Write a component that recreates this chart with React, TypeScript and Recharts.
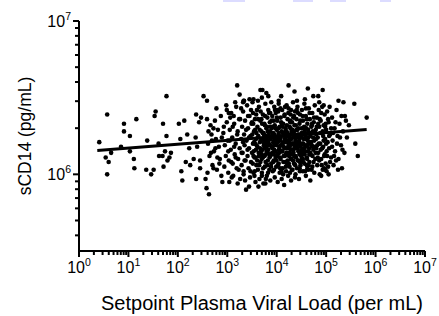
import React from 'react'
import { ComposedChart, Scatter, Line, XAxis, YAxis, Label } from 'recharts'

// values are log10 of setpoint viral load (per mL) and log10 of sCD14 (pg/mL)
const lowViralLoad: [number, number][] = [
  [0.41, 6.21], [0.57, 6.39], [0.54, 6.11], [0.6, 6.08], [0.57, 6.0], [0.65, 6.14], [0.85, 6.18], [0.91, 6.33],
  [0.91, 6.28], [1.03, 6.25], [1.03, 6.15], [1.11, 6.1], [1.12, 6.04], [1.16, 6.36], [1.38, 6.22], [1.36, 6.03],
  [1.46, 6.0], [1.51, 6.03], [1.53, 6.38], [1.55, 6.41], [1.61, 6.2], [1.62, 6.12], [1.69, 6.12], [1.74, 6.15],
  [1.79, 6.09], [1.83, 6.11], [1.71, 6.05], [1.77, 6.51], [1.7, 6.33], [1.77, 6.25], [1.86, 6.14], [2.02, 6.33],
  [2.05, 6.23], [2.07, 6.02], [2.09, 5.96], [2.13, 6.35], [2.19, 6.26], [2.16, 6.08], [2.25, 6.06], [2.32, 6.1],
  [2.23, 6.17], [2.37, 6.39], [2.36, 6.24], [2.39, 6.18], [2.37, 5.97], [2.43, 6.34], [2.47, 6.37], [2.52, 6.51],
  [2.59, 6.48], [2.56, 5.97], [2.58, 5.91], [2.63, 5.87], [2.59, 6.36], [2.66, 6.32], [2.72, 6.3], [2.62, 6.28],
  [2.69, 6.22], [2.76, 6.17], [2.67, 6.14], [2.8, 6.11], [2.72, 6.04], [2.84, 6.07], [2.9, 5.95], [2.6, 6.01],
  [2.45, 6.04], [2.45, 6.09], [2.99, 6.42], [3.06, 6.37], [2.93, 6.31],
  [2.61, 6.2], [2.64, 6.12], [2.68, 6.26], [2.7, 6.06], [2.73, 6.15], [2.75, 6.35], [2.77, 6.23], [2.79, 6.03],
  [2.81, 6.29], [2.83, 6.18], [2.85, 6.1], [2.87, 6.38], [2.88, 5.99], [2.89, 6.24], [2.78, 6.43],
]

const midViralLoad: [number, number][] = [
  [2.92, 6.27], [2.95, 6.19], [2.97, 6.12], [2.94, 6.05], [2.99, 6.34], [3.01, 6.22], [3.03, 6.09], [3.02, 6.01],
  [3.05, 6.29], [3.07, 6.16], [3.08, 6.4], [3.1, 6.24], [3.11, 6.07], [3.12, 5.99], [3.14, 6.33], [3.15, 6.13],
  [3.17, 6.2], [3.18, 6.44], [3.19, 6.04], [3.21, 6.28], [3.22, 6.1], [3.24, 6.36], [3.25, 6.17], [3.26, 5.97],
  [3.28, 6.23], [3.29, 6.06], [3.3, 6.31], [2.98, 6.45], [3.04, 5.95], [3.13, 6.38],
  [3.31, 6.14], [3.32, 6.41], [3.33, 6.02], [3.34, 6.26], [3.35, 6.19], [3.36, 6.35], [3.37, 6.09], [3.38, 5.9],
  [3.39, 6.22], [3.4, 6.45], [3.41, 6.12], [3.42, 6.3], [3.43, 6.04], [3.44, 6.17], [3.45, 6.38], [3.46, 5.98],
  [3.47, 6.25], [3.48, 6.08], [3.49, 6.33], [3.5, 6.14], [3.51, 6.47], [3.52, 6.2], [3.53, 6.01], [3.54, 6.28],
  [3.55, 6.11], [3.56, 6.36], [3.57, 5.95], [3.58, 6.23], [3.59, 6.06], [3.6, 6.42], [3.34, 6.48], [3.45, 6.49],
  [3.52, 6.4], [3.36, 5.96], [3.58, 6.16],
  [3.61, 6.18], [3.61, 6.31], [3.62, 6.03], [3.63, 6.25], [3.64, 6.12], [3.64, 6.44], [3.65, 5.97], [3.66, 6.21],
  [3.67, 6.35], [3.67, 6.08], [3.68, 6.15], [3.69, 6.28], [3.7, 6.5], [3.7, 6.01], [3.71, 6.22], [3.72, 6.39],
  [3.72, 6.11], [3.73, 5.94], [3.74, 6.26], [3.75, 6.17], [3.75, 6.33], [3.76, 6.05], [3.77, 6.46], [3.77, 6.2],
  [3.78, 6.13], [3.79, 6.3], [3.8, 5.99], [3.8, 6.24], [3.81, 6.37], [3.82, 6.09], [3.83, 6.16], [3.83, 6.42],
  [3.84, 6.27], [3.85, 6.03], [3.85, 6.19], [3.86, 6.34], [3.87, 5.96], [3.87, 6.12], [3.88, 6.23], [3.89, 6.47],
  [3.89, 6.07], [3.9, 6.3], [3.63, 5.92], [3.71, 6.55], [3.79, 6.53],
  [3.2, 6.58], [3.25, 6.52], [3.32, 6.47], [3.67, 6.55], [3.83, 6.51], [3.53, 6.49], [3.62, 6.48], [3.33, 6.48],
  [3.77, 5.94], [3.78, 5.97], [3.7, 5.99],
  [3.02, 6.15], [3.05, 6.22], [3.08, 6.08], [3.11, 6.31], [3.14, 6.18], [3.17, 6.11], [3.2, 6.26], [3.23, 6.03],
  [3.26, 6.36], [3.29, 6.14], [3.32, 6.21], [3.35, 6.09], [3.38, 6.29], [3.41, 6.16], [3.44, 6.24], [3.47, 6.02],
  [3.5, 6.34], [3.53, 6.12], [3.56, 6.2], [3.59, 6.27], [3.03, 6.4], [3.16, 6.47], [3.28, 6.43], [3.42, 6.38],
  [3.48, 6.42], [3.09, 5.98], [3.21, 5.94], [3.33, 6.0], [3.44, 5.92], [3.55, 5.99],
]

const highViralLoad: [number, number][] = [
  [3.91, 6.14], [3.91, 6.38], [3.92, 6.02], [3.93, 6.21], [3.93, 6.27], [3.94, 6.09], [3.95, 6.44], [3.95, 6.16],
  [3.96, 5.98], [3.96, 6.32], [3.97, 6.23], [3.98, 6.11], [3.98, 6.4], [3.99, 6.05], [4.0, 6.19], [4.0, 6.29],
  [4.01, 6.35], [4.02, 6.13], [4.02, 5.95], [4.03, 6.25], [4.04, 6.07], [4.04, 6.46], [4.05, 6.18], [4.06, 6.31],
  [4.06, 6.01], [4.07, 6.22], [4.08, 6.37], [4.08, 6.1], [4.09, 6.15], [4.1, 6.28], [4.1, 5.97], [4.11, 6.42],
  [4.12, 6.04], [4.12, 6.2], [4.13, 6.33], [4.14, 6.12], [4.14, 6.26], [4.15, 5.93], [4.16, 6.17], [4.16, 6.39],
  [4.17, 6.08], [4.18, 6.24], [4.18, 6.3], [4.19, 6.02], [4.2, 6.14], [4.2, 6.45], [3.94, 6.35], [4.03, 6.41],
  [4.13, 6.0], [4.19, 6.21],
  [4.21, 6.27], [4.22, 6.09], [4.22, 6.36], [4.23, 5.99], [4.24, 6.19], [4.24, 6.43], [4.25, 6.12], [4.26, 6.31],
  [4.26, 6.05], [4.27, 6.23], [4.28, 6.16], [4.28, 6.39], [4.29, 5.96], [4.3, 6.28], [4.3, 6.1], [4.31, 6.34],
  [4.32, 6.2], [4.32, 6.03], [4.33, 6.47], [4.34, 6.14], [4.34, 6.25], [4.35, 6.07], [4.36, 6.32], [4.36, 6.18],
  [4.37, 6.41], [4.38, 6.0], [4.38, 6.22], [4.39, 6.11], [4.4, 6.29], [4.4, 6.36], [4.41, 6.04], [4.42, 6.17],
  [4.42, 6.44], [4.43, 6.26], [4.44, 6.09], [4.44, 6.21], [4.45, 5.97], [4.46, 6.33], [4.46, 6.13], [4.47, 6.39],
  [4.48, 6.06], [4.48, 6.24], [4.49, 6.15], [4.5, 6.3], [4.23, 6.22], [4.27, 6.01], [4.35, 6.38], [4.41, 6.19],
  [4.47, 6.02], [4.31, 6.13],
  [4.51, 6.1], [4.51, 6.42], [4.52, 6.2], [4.53, 6.02], [4.53, 6.35], [4.54, 6.26], [4.55, 6.14], [4.56, 6.46],
  [4.56, 6.07], [4.57, 6.3], [4.58, 6.18], [4.59, 5.99], [4.59, 6.38], [4.6, 6.23], [4.61, 6.11], [4.62, 6.33],
  [4.62, 6.04], [4.63, 6.27], [4.64, 6.15], [4.65, 6.43], [4.65, 6.21], [4.66, 6.08], [4.67, 6.36], [4.68, 5.96],
  [4.68, 6.25], [4.69, 6.13], [4.7, 6.31], [4.71, 6.19], [4.72, 6.4], [4.72, 6.05], [4.73, 6.28], [4.74, 6.16],
  [4.75, 6.34], [4.76, 6.01], [4.76, 6.22], [4.77, 6.45], [4.78, 6.1], [4.79, 6.29], [4.8, 6.17], [4.57, 6.49],
  [4.81, 6.37], [4.82, 6.06], [4.83, 6.24], [4.84, 6.14], [4.85, 6.42], [4.86, 6.31], [4.87, 6.0], [4.88, 6.2],
  [4.89, 6.35], [4.9, 6.1], [4.91, 6.27], [4.92, 6.44], [4.93, 6.03], [4.94, 6.18], [4.95, 6.32], [4.96, 6.12],
  [4.97, 6.39], [4.98, 6.23], [4.99, 6.07], [5.0, 6.29], [5.01, 6.15], [5.02, 6.41], [5.03, 6.21], [5.04, 6.05],
  [5.05, 6.34], [5.06, 6.17], [5.08, 6.26], [5.1, 6.11],
  [5.12, 6.37], [5.13, 6.22], [5.15, 6.06], [5.17, 6.3], [5.18, 6.15], [5.21, 6.42], [5.23, 6.25], [5.25, 6.1],
  [5.27, 6.33], [5.3, 6.19], [5.32, 6.04], [5.34, 6.28], [5.37, 6.14], [5.42, 6.24], [5.46, 6.32],
  [4.04, 6.48], [4.24, 6.58], [4.36, 6.54], [4.09, 6.51], [4.41, 6.48], [4.63, 6.56], [4.93, 6.55], [4.74, 6.51],
  [4.84, 6.51], [5.25, 6.48], [5.35, 6.47], [5.57, 6.46], [5.82, 6.37], [5.38, 6.38], [5.4, 6.35], [5.59, 6.2],
  [5.64, 6.12], [5.2, 6.09], [5.05, 6.0], [4.98, 6.03], [4.64, 6.03], [4.37, 5.98],
  [4.8, 6.26], [4.82, 6.19], [4.84, 6.33], [4.86, 6.09], [4.88, 6.27], [4.9, 6.4], [4.92, 6.17], [4.94, 6.25],
  [4.96, 6.04], [4.98, 6.31], [5.0, 6.2], [5.02, 6.12], [5.04, 6.36], [5.06, 6.25], [5.08, 6.08], [5.1, 6.3],
  [5.12, 6.18], [5.14, 6.27], [5.16, 6.12], [5.19, 6.34], [5.22, 6.2], [5.24, 6.03], [5.28, 6.24], [5.31, 6.38],
  [5.33, 6.16], [4.86, 6.47], [4.95, 6.45], [5.07, 6.44], [4.9, 5.99], [5.01, 6.02],
]

// the crowded middle of the cloud
const coreViralLoad: [number, number][] = [
  [3.505, 6.26], [3.515, 6.07], [3.525, 6.33], [3.535, 6.15], [3.545, 6.21], [3.555, 6.02], [3.565, 6.29], [3.575, 6.11],
  [3.585, 6.39], [3.595, 6.19], [3.605, 6.09], [3.615, 6.24], [3.625, 6.36], [3.635, 6.14], [3.645, 6.06], [3.655, 6.29],
  [3.665, 6.17], [3.675, 6.41], [3.685, 6.23], [3.695, 6.1], [3.705, 6.33], [3.715, 6.16], [3.725, 6.04], [3.735, 6.27],
  [3.745, 6.2], [3.755, 6.12], [3.765, 6.38], [3.775, 6.08], [3.785, 6.25], [3.795, 6.18], [3.805, 6.31], [3.815, 6.14],
  [3.825, 6.01], [3.835, 6.22], [3.845, 6.4], [3.855, 6.11], [3.865, 6.28], [3.875, 6.19], [3.885, 6.05], [3.895, 6.35],
  [3.905, 6.24], [3.915, 6.17], [3.925, 6.31], [3.935, 6.13], [3.945, 6.03], [3.955, 6.26], [3.965, 6.42], [3.975, 6.15],
  [3.985, 6.2], [3.995, 6.09], [4.005, 6.37], [4.015, 6.23], [4.025, 6.06], [4.035, 6.3], [4.045, 6.16], [4.055, 6.25],
  [4.065, 6.11], [4.075, 6.43], [4.085, 6.19], [4.095, 6.02], [4.105, 6.33], [4.115, 6.15], [4.125, 6.27], [4.135, 6.08],
  [4.145, 6.21], [4.155, 6.38], [4.165, 6.12], [4.175, 6.28], [4.185, 6.05], [4.195, 6.17], [4.205, 6.32], [4.215, 6.22],
  [4.225, 6.13], [4.235, 6.4], [4.245, 6.07], [4.255, 6.26], [4.265, 6.18], [4.275, 6.34], [4.285, 6.1], [4.295, 6.23],
  [4.305, 6.03], [4.315, 6.29], [4.325, 6.16], [4.335, 6.37], [4.345, 6.2], [4.355, 6.12], [4.365, 6.26], [4.375, 6.06],
  [4.385, 6.32], [4.395, 6.17], [4.405, 6.42], [4.415, 6.24], [4.425, 6.09], [4.435, 6.3], [4.445, 6.15], [4.455, 6.21],
  [4.465, 6.04], [4.475, 6.35], [4.485, 6.19], [4.495, 6.12], [4.505, 6.27], [4.515, 6.16], [4.525, 6.38], [4.535, 6.08],
  [4.545, 6.23], [4.555, 6.31], [4.565, 6.13], [4.575, 6.02], [4.585, 6.25], [4.595, 6.19], [4.605, 6.36], [4.615, 6.1],
  [4.625, 6.22], [4.635, 6.29], [4.645, 6.06], [4.655, 6.17], [4.665, 6.4], [4.675, 6.14], [4.685, 6.27], [4.695, 6.21],
  [4.705, 6.03], [4.715, 6.33], [4.725, 6.12], [4.735, 6.24], [4.745, 6.08], [4.755, 6.37], [4.765, 6.18], [4.775, 6.27],
  [4.785, 6.14], [4.795, 6.23], [4.81, 6.31], [4.83, 6.11], [4.85, 6.2], [4.87, 6.36], [4.89, 6.16], [4.91, 6.06],
  [4.93, 6.28], [4.95, 6.22], [4.97, 6.13], [4.99, 6.33],
  [3.7, 6.13], [3.72, 6.27], [3.74, 6.19], [3.76, 6.32], [3.78, 6.22], [3.8, 6.15], [3.82, 6.28], [3.84, 6.2],
  [3.86, 6.13], [3.88, 6.31], [3.9, 6.18], [3.92, 6.26], [3.94, 6.14], [3.96, 6.22], [3.98, 6.3], [4.0, 6.12],
  [4.02, 6.21], [4.04, 6.27], [4.06, 6.16], [4.08, 6.24], [4.1, 6.19], [4.12, 6.31], [4.14, 6.18], [4.16, 6.23],
  [4.18, 6.13], [4.2, 6.28], [4.22, 6.17], [4.24, 6.25], [4.26, 6.14], [4.28, 6.3], [4.3, 6.2], [4.32, 6.26],
  [4.34, 6.16], [4.36, 6.24], [4.38, 6.12], [4.4, 6.21], [4.42, 6.29], [4.44, 6.15], [4.46, 6.23], [4.48, 6.18],
  [4.5, 6.25], [4.52, 6.13], [4.54, 6.2], [4.56, 6.28], [4.58, 6.15], [4.6, 6.3], [4.62, 6.19], [4.64, 6.24],
  [4.66, 6.13], [4.68, 6.2], [3.75, 6.24], [3.85, 6.25], [3.95, 6.19], [4.05, 6.14], [4.15, 6.26], [4.25, 6.21],
  [4.35, 6.28], [4.45, 6.26], [4.55, 6.17], [4.65, 6.27], [3.81, 6.06], [3.93, 6.08], [4.07, 6.04], [4.21, 6.07],
  [4.33, 6.09], [4.47, 6.08], [4.61, 6.06], [3.87, 6.4], [4.01, 6.42], [4.17, 6.44], [4.29, 6.42], [4.43, 6.4],
  [4.59, 6.43], [4.71, 6.32], [4.73, 6.18], [3.69, 6.36], [3.66, 6.14], [4.09, 6.34], [4.27, 6.35], [4.53, 6.1],
]

// linear regression in log-log space, end points
const fitLine: [number, number][] = [[0.37, 6.155], [5.82, 6.293]]

const xDecades = [0, 1, 2, 3, 4, 5, 6, 7]
const yDecades = [5, 6, 7]
const minorSteps = [2, 3, 4, 5, 6, 7, 8, 9]

const points = [...lowViralLoad, ...midViralLoad, ...highViralLoad, ...coreViralLoad].map(([x, y]) => ({ x, y }))
const fit = fitLine.map(([x, y]) => ({ x, y }))

const withMinors = (decades: number[], lo: number, hi: number) => {
  const out: number[] = []
  decades.forEach((d) => {
    out.push(d)
    minorSteps.forEach((k) => out.push(d + Math.log10(k)))
  })
  return out.filter((v) => v >= lo - 1e-9 && v <= hi + 1e-9)
}
const xTicks = withMinors(xDecades, 0, 7)
const yTicks = withMinors(yDecades, 5.5, 7)

const FONT = '"Liberation Sans", Arial, Helvetica, sans-serif'
const isMajor = (v: number) => Math.abs(v - Math.round(v)) < 1e-6

const XTick = (props: any) => {
  const { x, y, payload } = props
  const major = isMajor(payload.value)
  return (
    <g>
      <line x1={x} x2={x} y1={y} y2={y + (major ? 6 : 4)} stroke="#000" strokeWidth={2} />
      {major && (
        <text x={x} y={y + 22} textAnchor="middle" fontSize={16} fontFamily={FONT} fill="#000">
          <tspan>10</tspan>
          <tspan dy={-7} fontSize={10.5}>{Math.round(payload.value)}</tspan>
        </text>
      )}
    </g>
  )
}

const YTick = (props: any) => {
  const { x, y, payload } = props
  const major = isMajor(payload.value)
  return (
    <g>
      <line x1={x - (major ? 6 : 4)} x2={x} y1={y} y2={y} stroke="#000" strokeWidth={2} />
      {major && (
        <text x={x - 8} y={y + 6} textAnchor="end" fontSize={16} fontFamily={FONT} fill="#000">
          <tspan>10</tspan>
          <tspan dy={-7} fontSize={10.5}>{Math.round(payload.value)}</tspan>
        </text>
      )}
    </g>
  )
}

const Dot = (props: any) => <circle cx={props.cx} cy={props.cy} r={2.3} fill="#000" />

const topMarks = [
  { left: 223, width: 22 },
  { left: 293, width: 20 },
  { left: 330, width: 16 },
  { left: 380, width: 11 },
]

export default function App() {
  return (
    <div style={{ position: 'absolute', left: 0, top: 0, width: 439, height: 316, background: '#fff' }}>
      {topMarks.map((m, i) => (
        <div key={i} style={{ position: 'absolute', top: 0, left: m.left, width: m.width, height: 2, background: '#dcdcff' }} />
      ))}
      <ComposedChart width={439} height={316} margin={{ top: 21, right: 14, bottom: 0, left: 0 }}>
        <XAxis
          type="number"
          dataKey="x"
          domain={[0, 7]}
          ticks={xTicks}
          interval={0}
          tick={<XTick />}
          tickLine={false}
          tickSize={0}
          tickMargin={0}
          height={65}
          axisLine={{ stroke: '#000', strokeWidth: 2 }}
          allowDataOverflow
        >
          <Label
            content={() => (
              <text x={262} y={310} textAnchor="middle" fontSize={20} fontFamily={FONT} fill="#000">
                Setpoint Plasma Viral Load (per mL)
              </text>
            )}
          />
        </XAxis>
        <YAxis
          type="number"
          dataKey="y"
          domain={[5.5, 7]}
          ticks={yTicks}
          interval={0}
          tick={<YTick />}
          tickLine={false}
          tickSize={0}
          tickMargin={0}
          width={79}
          axisLine={{ stroke: '#000', strokeWidth: 2 }}
          allowDataOverflow
        >
          <Label
            content={() => (
              <text
                x={31}
                y={136}
                transform="rotate(-90, 31, 136)"
                textAnchor="middle"
                fontSize={17.5}
                fontFamily={FONT}
                fill="#000"
              >
                sCD14 (pg/mL)
              </text>
            )}
          />
        </YAxis>
        <Scatter data={points} dataKey="y" fill="#000" shape={<Dot />} isAnimationActive={false} />
        <Line
          data={fit}
          dataKey="y"
          type="linear"
          stroke="#000"
          strokeWidth={3}
          dot={false}
          activeDot={false}
          isAnimationActive={false}
        />
      </ComposedChart>
    </div>
  )
}
